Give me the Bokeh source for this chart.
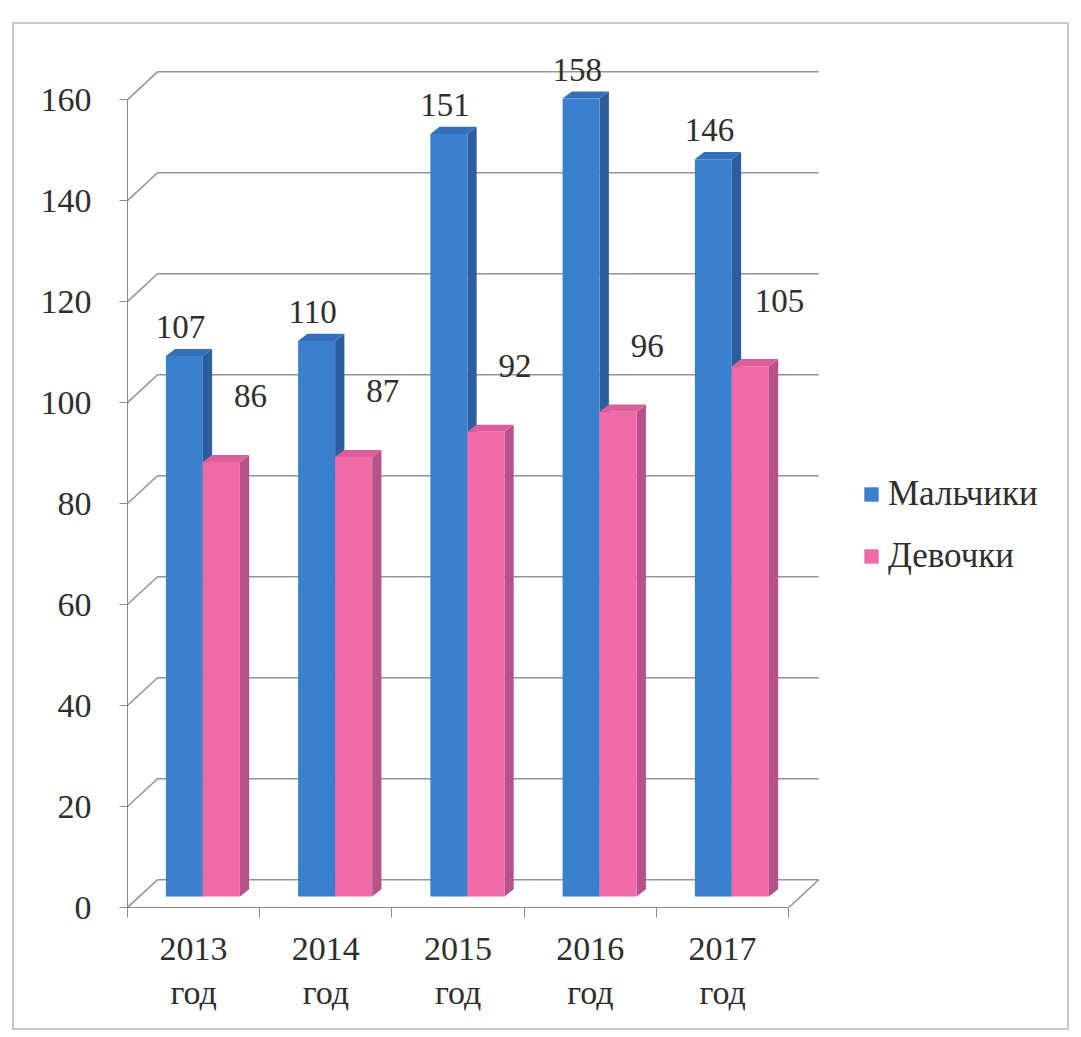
from bokeh.plotting import figure
from bokeh.models import FixedTicker, Legend, LegendItem
from bokeh.core.properties import value
from bokeh.embed import file_html
from bokeh.resources import INLINE

# ---- data ----
categories = ["2013", "2014", "2015", "2016", "2017"]
cat_suffix = "год"
boys = [107, 110, 151, 158, 146]
girls = [86, 87, 92, 96, 105]
series_names = ["Мальчики", "Девочки"]
y_ticks = [0, 20, 40, 60, 80, 100, 120, 140, 160]

# ---- style ----
FONT = "Liberation Serif"
TXT = "#2e2e2e"
BLUE, BLUE_SIDE, BLUE_TOP = "#3b80cf", "#2c5d9c", "#3470b8"
PINK, PINK_SIDE, PINK_TOP = "#f06aa8", "#b5528a", "#dc5f9c"
GRID = "#949494"
DX, DY = 0.227, 5.5          # wall depth (category units, value units)
BW = 0.28                    # bar width
B0 = 2.2                     # bar base lift (3D floor)
DDX, DDY = 0.07, 1.4         # bar depth

W, H = 1057, 1008
n = len(categories)
p = figure(width=W, height=H, x_range=(-0.5, 6.57), y_range=(0, 171.3),
           output_backend="svg", toolbar_location=None,
           min_border_left=113, min_border_right=9, min_border_top=18,
           min_border_bottom=125)
p.margin = (22, 0, 0, 12)
p.styles = {"border": "2px solid #c8c8c8", "box-sizing": "border-box"}
p.outline_line_color = None
p.xgrid.visible = False
p.ygrid.visible = False
p.background_fill_color = "white"
p.border_fill_color = "white"

# walls / gridlines
wall_end = n - 0.5
gx, gy = [], []
for v in y_ticks[1:]:
    gx.append([-0.5, -0.5 + DX, wall_end + DX])
    gy.append([v, v + DY, v + DY])
gx.append([-0.5, -0.5 + DX, wall_end + DX, wall_end])
gy.append([0, DY, DY, 0])
p.multi_line(gx, gy, line_color=GRID, line_width=1.6)


def bar_shapes(x0s, vals):
    sides_x, sides_y, tops_x, tops_y = [], [], [], []
    for x0, v in zip(x0s, vals):
        x1 = x0 + BW
        t = B0 + v
        sides_x.append([x1, x1 + DDX, x1 + DDX, x1])
        sides_y.append([B0, B0 + DDY, t + DDY, t])
        tops_x.append([x0, x0 + DDX, x1 + DDX, x1])
        tops_y.append([t, t + DDY, t + DDY, t])
    return sides_x, sides_y, tops_x, tops_y


idx = list(range(n))
blue_x0 = [i - 0.21 for i in idx]
pink_x0 = [i + 0.07 for i in idx]

renderers = []
for x0s, vals, c_front, c_side, c_top in [
        (blue_x0, boys, BLUE, BLUE_SIDE, BLUE_TOP),
        (pink_x0, girls, PINK, PINK_SIDE, PINK_TOP)]:
    sx, sy, tx, ty = bar_shapes(x0s, vals)
    p.patches(sx, sy, fill_color=c_side, line_color=None)
    p.patches(tx, ty, fill_color=c_top, line_color=None)
    r = p.quad(left=x0s, right=[x + BW for x in x0s], bottom=B0,
               top=[B0 + v for v in vals], fill_color=c_front, line_color=None)
    renderers.append(r)

# data labels
p.text(x=[i - 0.1 for i in idx], y=[B0 + v + 5.7 for v in boys],
       text=[str(v) for v in boys], text_align="center", text_baseline="middle",
       text_font=value(FONT), text_font_size="33px", text_color=TXT)
p.text(x=[i + 0.43 for i in idx], y=[B0 + v + 13.0 for v in girls],
       text=[str(v) for v in girls], text_align="center", text_baseline="middle",
       text_font=value(FONT), text_font_size="33px", text_color=TXT)

# axes
p.yaxis.ticker = FixedTicker(ticks=y_ticks)
p.yaxis.bounds = (0, y_ticks[-1])
p.yaxis.axis_line_color = "#8a8a8a"
p.yaxis.major_tick_line_color = "#8a8a8a"
p.yaxis.major_tick_out = 8
p.yaxis.major_tick_in = 0
p.yaxis.minor_tick_line_color = None
p.yaxis.major_label_standoff = 28
p.yaxis.major_label_text_font = FONT
p.yaxis.major_label_text_font_size = "34px"
p.yaxis.major_label_text_color = TXT

p.xaxis.ticker = FixedTicker(ticks=idx, minor_ticks=[i - 0.5 for i in range(n + 1)])
p.xaxis.bounds = (-0.5, wall_end)
p.xaxis.major_label_overrides = {i: f"{c}\n{cat_suffix}" for i, c in enumerate(categories)}
p.xaxis.axis_line_color = "#8a8a8a"
p.xaxis.major_tick_line_color = None
p.xaxis.minor_tick_line_color = "#8a8a8a"
p.xaxis.minor_tick_out = 10
p.xaxis.minor_tick_in = 0
p.xaxis.major_label_standoff = 12
p.xaxis.major_label_text_font = FONT
p.xaxis.major_label_text_font_size = "34px"
p.xaxis.major_label_text_color = TXT

legend = Legend(items=[LegendItem(label=series_names[0], renderers=[renderers[0]]),
                       LegendItem(label=series_names[1], renderers=[renderers[1]])],
                location=(735, 331))
legend.label_text_font = FONT
legend.label_text_font_size = "35px"
legend.label_text_color = TXT
legend.glyph_width = 18
legend.glyph_height = 18
legend.label_height = 36
legend.spacing = 22
legend.padding = 5
legend.margin = 0
legend.label_standoff = 8
legend.border_line_color = None
legend.background_fill_alpha = 0
p.add_layout(legend)

open("out.html", "w").write(file_html(p, INLINE))
